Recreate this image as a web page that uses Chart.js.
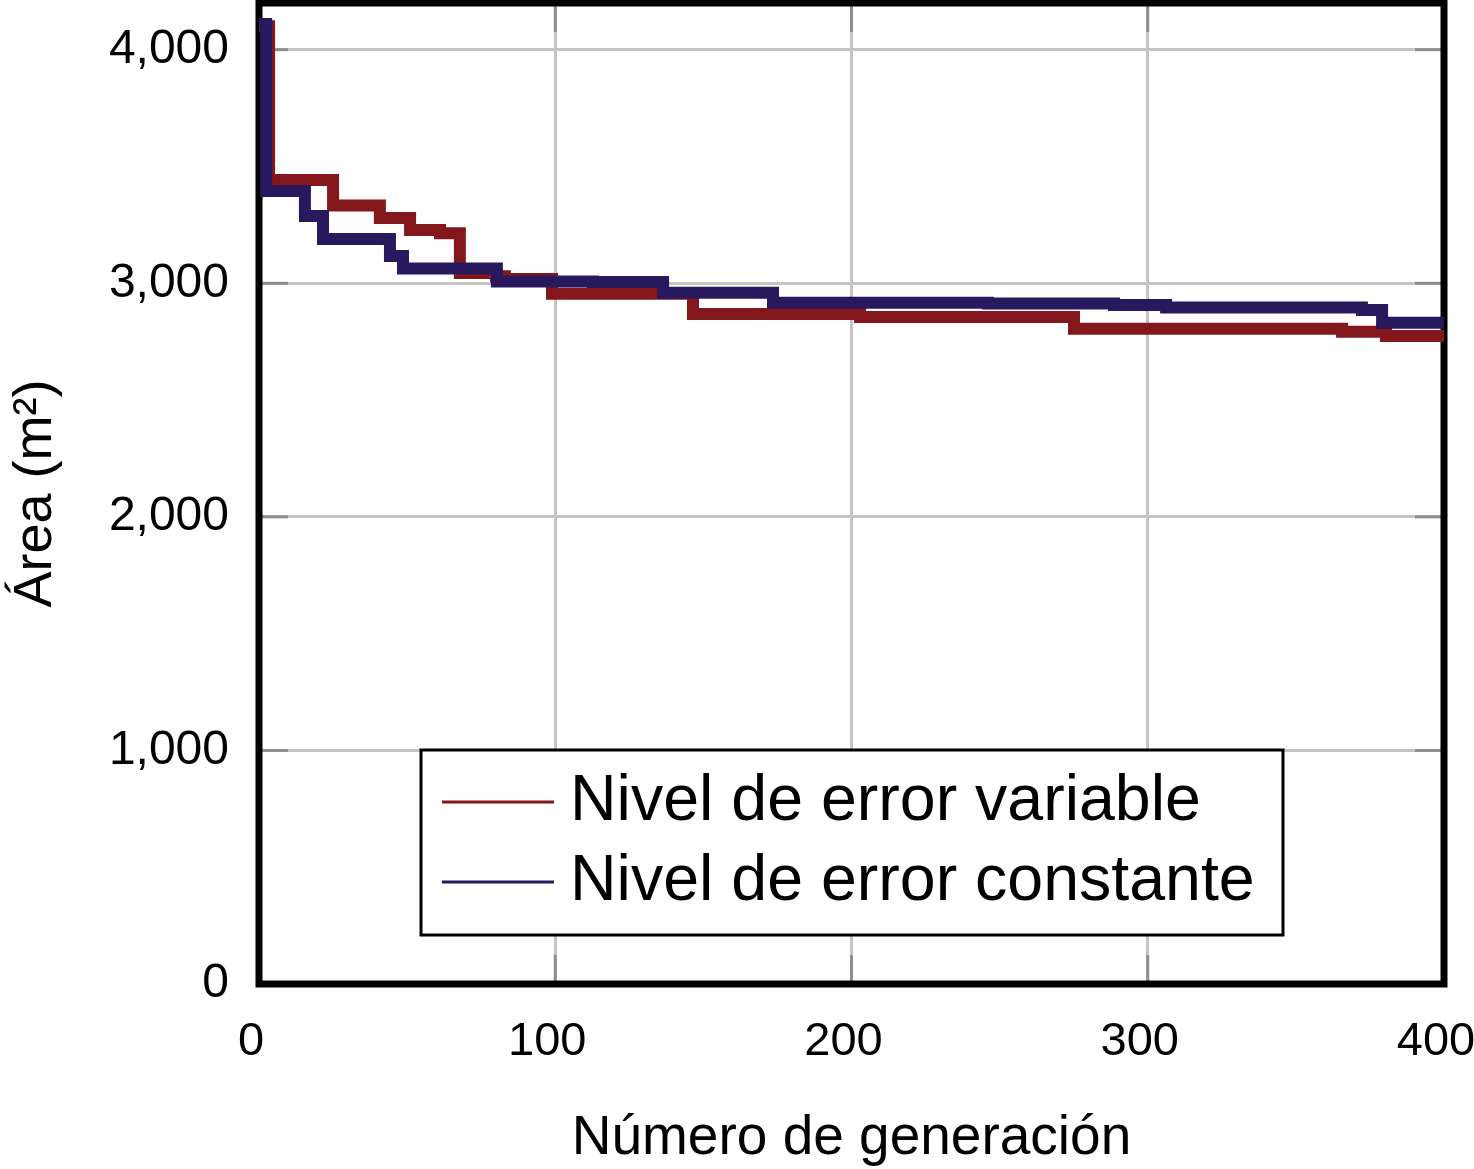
<!DOCTYPE html>
<html>
<head>
<meta charset="utf-8">
<script src="https://cdn.jsdelivr.net/npm/chart.js@4.4.1/dist/chart.umd.min.js"></script>
<style>
  html, body { margin: 0; padding: 0; background: #fff; }
</style>
</head>
<body>
<canvas id="areaChart" width="1474" height="1169"></canvas>
<script>
// series names (legend order)
const seriesNames = ["Nivel de error variable", "Nivel de error constante"];

// red: generation where the step happens, area after the step
const redGen = [0, 3.4, 25, 40.8, 51, 61.1, 67.8, 80, 83, 98.9, 146.5, 202.9, 275.1, 365.6, 380.4, 400];
const redArea = [4100, 3442, 3333, 3280, 3228, 3214, 3044, 3030, 3018, 2955, 2869, 2856, 2805, 2793, 2774, 2774];

// blue
const blueGen = [0, 2.4, 15.5, 21.6, 44.2, 48.6, 80.3, 112.7, 136.4, 173.5, 246, 288.6, 306.2, 372.3, 379.1, 400];
const blueArea = [4110, 3395, 3288, 3190, 3117, 3063, 3008, 3005, 2960, 2917, 2913, 2907, 2896, 2886, 2831, 2831];

const xTicks = [0, 100, 200, 300, 400];
const yTicks = [0, 1000, 2000, 3000, 4000];

const FONT = "'Liberation Sans', Arial, Helvetica, sans-serif";

function toPoints(xs, ys) {
  return xs.map((x, i) => ({ x: x, y: ys[i] }));
}

// inner tick marks + thick black frame (under the lines)
const framePlugin = {
  id: "frame",
  beforeDatasetsDraw(chart) {
    const { ctx, chartArea: a, scales } = chart;
    const seg = (x1, y1, x2, y2) => {
      ctx.beginPath(); ctx.moveTo(x1, y1); ctx.lineTo(x2, y2); ctx.stroke();
    };
    ctx.save();
    ctx.strokeStyle = "#8e8e8e";
    ctx.lineWidth = 3;
    yTicks.forEach(v => {
      if (v === 0) return;
      const y = scales.y.getPixelForValue(v);
      seg(a.left, y, a.left + 29, y);
      seg(a.right - 29, y, a.right, y);
    });
    xTicks.forEach(v => {
      if (v === 0 || v === 400) return;
      const x = scales.x.getPixelForValue(v);
      seg(x, a.bottom, x, a.bottom - 29);
      seg(x, a.top, x, a.top + 29);
    });
    ctx.strokeStyle = "#000";
    ctx.lineWidth = 7;
    ctx.strokeRect(a.left, a.top, a.right - a.left, a.bottom - a.top);
    ctx.restore();
  }
};

// boxed legend inside the plot
const boxLegend = {
  id: "boxLegend",
  afterDatasetsDraw(chart) {
    const ctx = chart.ctx;
    const bx = 421, by = 750, bw = 862, bh = 185;
    ctx.save();
    ctx.fillStyle = "#fff";
    ctx.fillRect(bx, by, bw, bh);
    ctx.strokeStyle = "#000";
    ctx.lineWidth = 3;
    ctx.strokeRect(bx, by, bw, bh);
    ctx.font = "64.5px " + FONT;
    ctx.textBaseline = "alphabetic";
    ctx.textAlign = "left";
    chart.data.datasets.forEach((ds, i) => {
      const ly = 802 + i * 80;
      ctx.strokeStyle = ds.borderColor;
      ctx.lineWidth = 3;
      ctx.beginPath(); ctx.moveTo(442, ly); ctx.lineTo(554, ly); ctx.stroke();
      ctx.fillStyle = "#000";
      ctx.fillText(ds.label, 570, ly + 18);
    });
    ctx.restore();
  }
};

const ctx = document.getElementById("areaChart").getContext("2d");
const areaChart = new Chart(ctx, {
  type: "line",
  data: {
    datasets: [
      {
        label: seriesNames[0],
        data: toPoints(redGen, redArea),
        borderColor: "#83171c",
        borderWidth: 12,
        stepped: true,
        pointRadius: 0,
        fill: false,
        order: 2
      },
      {
        label: seriesNames[1],
        data: toPoints(blueGen, blueArea),
        borderColor: "#28195f",
        borderWidth: 12,
        stepped: true,
        pointRadius: 0,
        fill: false,
        order: 1
      }
    ]
  },
  options: {
    responsive: false,
    animation: false,
    layout: { padding: { top: 3, right: 30, bottom: 0, left: 0 } },
    plugins: {
      legend: { display: false },
      tooltip: { enabled: false }
    },
    scales: {
      x: {
        type: "linear",
        min: 0,
        max: 400,
        afterBuildTicks: s => { s.ticks = xTicks.map(v => ({ value: v })); },
        afterFit: s => { s.height = 185; s.paddingLeft = 0; s.paddingRight = 0; },
        grid: { color: "#c4c4c4", lineWidth: 3, drawTicks: false },
        border: { display: false },
        ticks: { color: "#000", font: { family: FONT, size: 47 }, padding: 30, labelOffset: -8, maxRotation: 0 },
        title: {
          display: true,
          text: "Número de generación",
          color: "#000",
          font: { family: FONT, size: 55, lineHeight: 1.0 },
          padding: { top: 0, bottom: 3 }
        }
      },
      y: {
        min: 0,
        max: 4200,
        afterBuildTicks: s => { s.ticks = yTicks.map(v => ({ value: v })); },
        afterFit: s => { s.width = 259; s.paddingTop = 0; s.paddingBottom = 0; },
        grid: { color: "#c4c4c4", lineWidth: 3, drawTicks: false },
        border: { display: false },
        ticks: {
          color: "#000",
          font: { family: FONT, size: 48 },
          padding: 30,
          callback: v => v.toLocaleString("en-US")
        },
        title: {
          display: true,
          text: "Área (m²)",
          color: "#000",
          font: { family: FONT, size: 54 },
          padding: { top: 4, bottom: 0 }
        }
      }
    }
  },
  plugins: [framePlugin, boxLegend]
});
</script>
</body>
</html>
